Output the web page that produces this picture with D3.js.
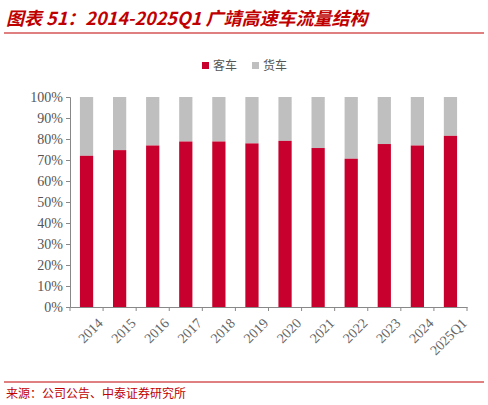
<!DOCTYPE html>
<html><head><meta charset="utf-8">
<script src="https://cdn.jsdelivr.net/npm/d3@7"></script>
<style>body{margin:0;background:#fff}</style></head>
<body><div id="root"></div>
<script>
const years = ['2014','2015','2016','2017','2018','2019','2020','2021','2022','2023','2024','2025Q1'];
const passenger = [72, 74.7, 76.9, 78.8, 78.8, 77.9, 79.1, 75.7, 70.6, 77.6, 76.9, 81.5];
const yTicks = [0,10,20,30,40,50,60,70,80,90,100];

const width = 488, height = 405;
const margin = {top: 97, right: 21, bottom: 98, left: 70};
const svg = d3.select('#root').append('svg').attr('width', width).attr('height', height);
const red = '#c8002d', grey = '#bfbfbf';
const font = '"Liberation Serif","DejaVu Serif",serif';

svg.append('text').attr('x', 6).attr('y', 25)
    .attr('fill', '#c00000').attr('font-size', 18).attr('font-weight', 'bold').attr('font-style', 'italic')
    .attr('font-family', '"Noto Sans CJK SC",sans-serif')
    .text('图表 51：2014-2025Q1 广靖高速车流量结构');
svg.append('line').attr('x1', 4).attr('x2', 484).attr('y1', 33).attr('y2', 33).attr('stroke', '#c00000').attr('stroke-width', 1.2);

const x = d3.scaleBand().domain(years).range([margin.left, width - margin.right]).paddingInner(0.6).paddingOuter(0.3);
const y = d3.scaleLinear().domain([0, 100]).range([height - margin.bottom, margin.top]);

const g = svg.append('g');
g.selectAll('.f').data(years).join('rect')
    .attr('x', d => x(d)).attr('width', x.bandwidth())
    .attr('y', y(100)).attr('height', (d, i) => y(passenger[i]) - y(100)).attr('fill', grey);
g.selectAll('.p').data(years).join('rect')
    .attr('x', d => x(d)).attr('width', x.bandwidth())
    .attr('y', (d, i) => y(passenger[i])).attr('height', (d, i) => y(0) - y(passenger[i])).attr('fill', red);

const ya = svg.append('g').attr('transform', `translate(${margin.left},0)`)
    .call(d3.axisLeft(y).tickValues(yTicks).tickFormat(d => d + '%').tickSize(4));
ya.selectAll('text').attr('font-family', font).attr('font-size', 14).attr('fill', '#555');
ya.selectAll('line,path').attr('stroke', '#888');

const xa = svg.append('g').attr('transform', `translate(0,${y(0)})`)
    .call(d3.axisBottom(x).tickSize(0));
xa.select('.domain').attr('stroke', '#888');
xa.selectAll('.tick line').remove();
const edges = years.map(d => x(d) - x.step() * x.paddingInner() / 2).concat([width - margin.right]);
xa.selectAll('.edge').data(edges).join('line')
    .attr('x1', d => d).attr('x2', d => d).attr('y1', 0).attr('y2', 4).attr('stroke', '#888');
xa.selectAll('text').attr('font-family', font).attr('font-size', 14).attr('fill', '#666')
    .attr('text-anchor', 'end').attr('transform', 'translate(8,8) rotate(-45)');

const legend = svg.append('g').attr('transform', 'translate(202,66)');
[['客车', red], ['货车', grey]].forEach(([t, c], i) => {
    legend.append('rect').attr('x', i * 50).attr('y', -4).attr('width', 7).attr('height', 7).attr('fill', c);
    legend.append('text').attr('x', i * 50 + 11).attr('y', 4).attr('font-size', 12)
        .attr('font-family', '"Noto Sans CJK SC",sans-serif').attr('fill', '#555').text(t);
});

svg.append('line').attr('x1', 4).attr('x2', 484).attr('y1', 382).attr('y2', 382).attr('stroke', '#c00000').attr('stroke-width', 1);
svg.append('text').attr('x', 6).attr('y', 398).attr('fill', '#c00000').attr('font-size', 12)
    .attr('font-family', '"Noto Sans CJK SC",serif').text('来源：公司公告、中泰证券研究所');
</script></body></html>
